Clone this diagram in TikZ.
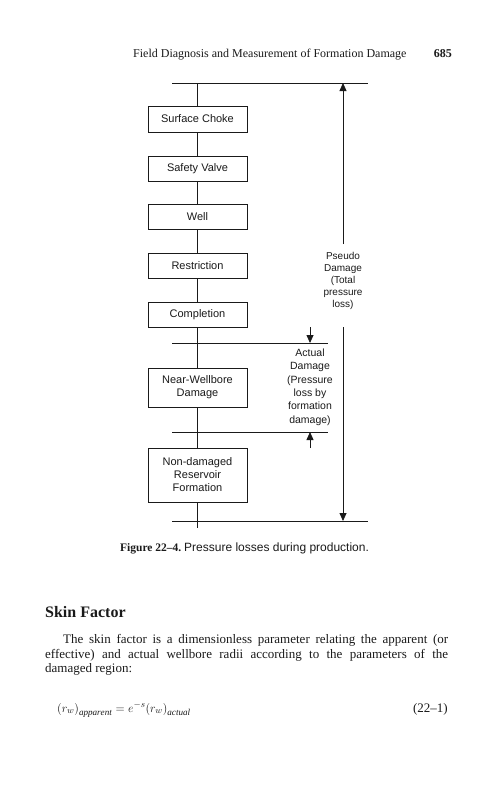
\documentclass[tikz,border=0pt]{standalone}
\usepackage{fontspec}
\setmainfont{Liberation Serif}
\setsansfont{Liberation Sans}
\usepackage{tikz}
\usetikzlibrary{positioning,arrows.meta}
\definecolor{pageink}{HTML}{1A1A1A}
\tikzset{fbox/.style={rectangle, draw=pageink, fill=white, minimum width=99pt, inner sep=2pt, align=center, text=pageink, font=\sffamily\fontsize{11}{13}\selectfont, line width=0.8pt}}
\tikzset{fline/.style={draw=pageink, line width=0.8pt}}
\tikzset{fedge/.style={-{Triangle[length=8pt,width=7pt]}, draw=pageink, line width=0.8pt}}
\tikzset{flabel/.style={align=center, inner sep=0pt, text=pageink, font=\sffamily\fontsize{10.5}{13.4}\selectfont}}
\tikzset{ptext/.style={anchor=base west, inner sep=0pt, text=pageink, font=\fontsize{13}{15}\selectfont}}

\begin{document}
\begin{tikzpicture}[x=1pt, y=-1pt]
  \useasboundingbox (0,0) rectangle (496,800);

  \node[ptext, font=\fontsize{12}{14}\selectfont] (runhead) at (133,57) {Field Diagnosis and Measurement of Formation Damage};
  \node[ptext, anchor=base east, font=\bfseries\fontsize{12}{14}\selectfont] (folio) at (452,57) {685};

  \coordinate (topL) at (172,83);
  \coordinate (topR) at (368,83);
  \coordinate (topmid) at (197.5,83);
  \coordinate (midAL) at (172,343);
  \coordinate (midAR) at (328,343);
  \coordinate (midBL) at (172,432);
  \coordinate (midBR) at (328,432);
  \coordinate (botL) at (172,521);
  \coordinate (botR) at (368,521);
  \coordinate (botend) at (197.5,528);

  \node[fbox, minimum height=26pt] (choke) at (197.5,119) {Surface Choke};
  \node[fbox, minimum height=25pt] (valve) at (197.5,168.5) {Safety Valve};
  \node[fbox, minimum height=25pt] (well) at (197.5,216.5) {Well};
  \node[fbox, minimum height=25pt] (restr) at (197.5,265.5) {Restriction};
  \node[fbox, minimum height=25pt] (compl) at (197.5,314.5) {Completion};
  \node[fbox, minimum height=39pt] (nearwb) at (197.5,387.5) {Near-Wellbore\\Damage};
  \node[fbox, minimum height=54pt] (reservoir) at (197.5,475) {Non-damaged\\Reservoir\\Formation};

  \draw[fline] (topL) -- (topR);
  \draw[fline] (midAL) -- (midAR);
  \draw[fline] (midBL) -- (midBR);
  \draw[fline] (botL) -- (botR);

  \draw[fline] (topmid) -- (choke);
  \draw[fline] (choke) -- (valve);
  \draw[fline] (valve) -- (well);
  \draw[fline] (well) -- (restr);
  \draw[fline] (restr) -- (compl);
  \draw[fline] (compl) -- (nearwb);
  \draw[fline] (nearwb) -- (reservoir);
  \draw[fline] (reservoir) -- (botend);

  \node[flabel, font=\sffamily\fontsize{10}{12}\selectfont] (pseudo) at (343,281) {Pseudo\\Damage\\(Total\\pressure\\loss)};
  \coordinate (pup) at (343,244);
  \coordinate (pdown) at (343,327);
  \draw[fedge] (pup) -- (pup |- topR);
  \draw[fedge] (pdown) -- (pdown |- botR);

  \node[flabel] (actual) at (310,387) {Actual\\Damage\\(Pressure\\loss by\\formation\\damage)};
  \coordinate (aup) at (310,327);
  \coordinate (adown) at (310,448);
  \draw[fedge] (aup) -- (aup |- midAR);
  \draw[fedge] (adown) -- (adown |- midBR);

  \node[ptext] (caption) at (120,551) {\fontsize{11.5}{13}\selectfont\bfseries Figure 22--4.\ \sffamily\mdseries\fontsize{12}{13}\selectfont Pressure losses during production.};

  \node[ptext, font=\bfseries\fontsize{16}{19}\selectfont] (heading) at (45,617) {Skin Factor};
  \node[ptext] (para1) at (63,643) {\makebox[385pt][s]{The skin factor is a dimensionless parameter relating the apparent (or}};
  \node[ptext] (para2) at (45,658) {\makebox[403pt][s]{effective) and actual wellbore radii according to the parameters of the}};
  \node[ptext] (para3) at (45,672) {damaged region:};

  \node[ptext, font=\fontsize{13}{15}\selectfont] (eqn) at (57,712) {$\bigl(r_w\bigr)_{\mathit{apparent}}=e^{-s}\bigl(r_w\bigr)_{\mathit{actual}}$};
  \node[ptext, anchor=base east] (eqnum) at (448,712) {(22--1)};
\end{tikzpicture}
\end{document}
